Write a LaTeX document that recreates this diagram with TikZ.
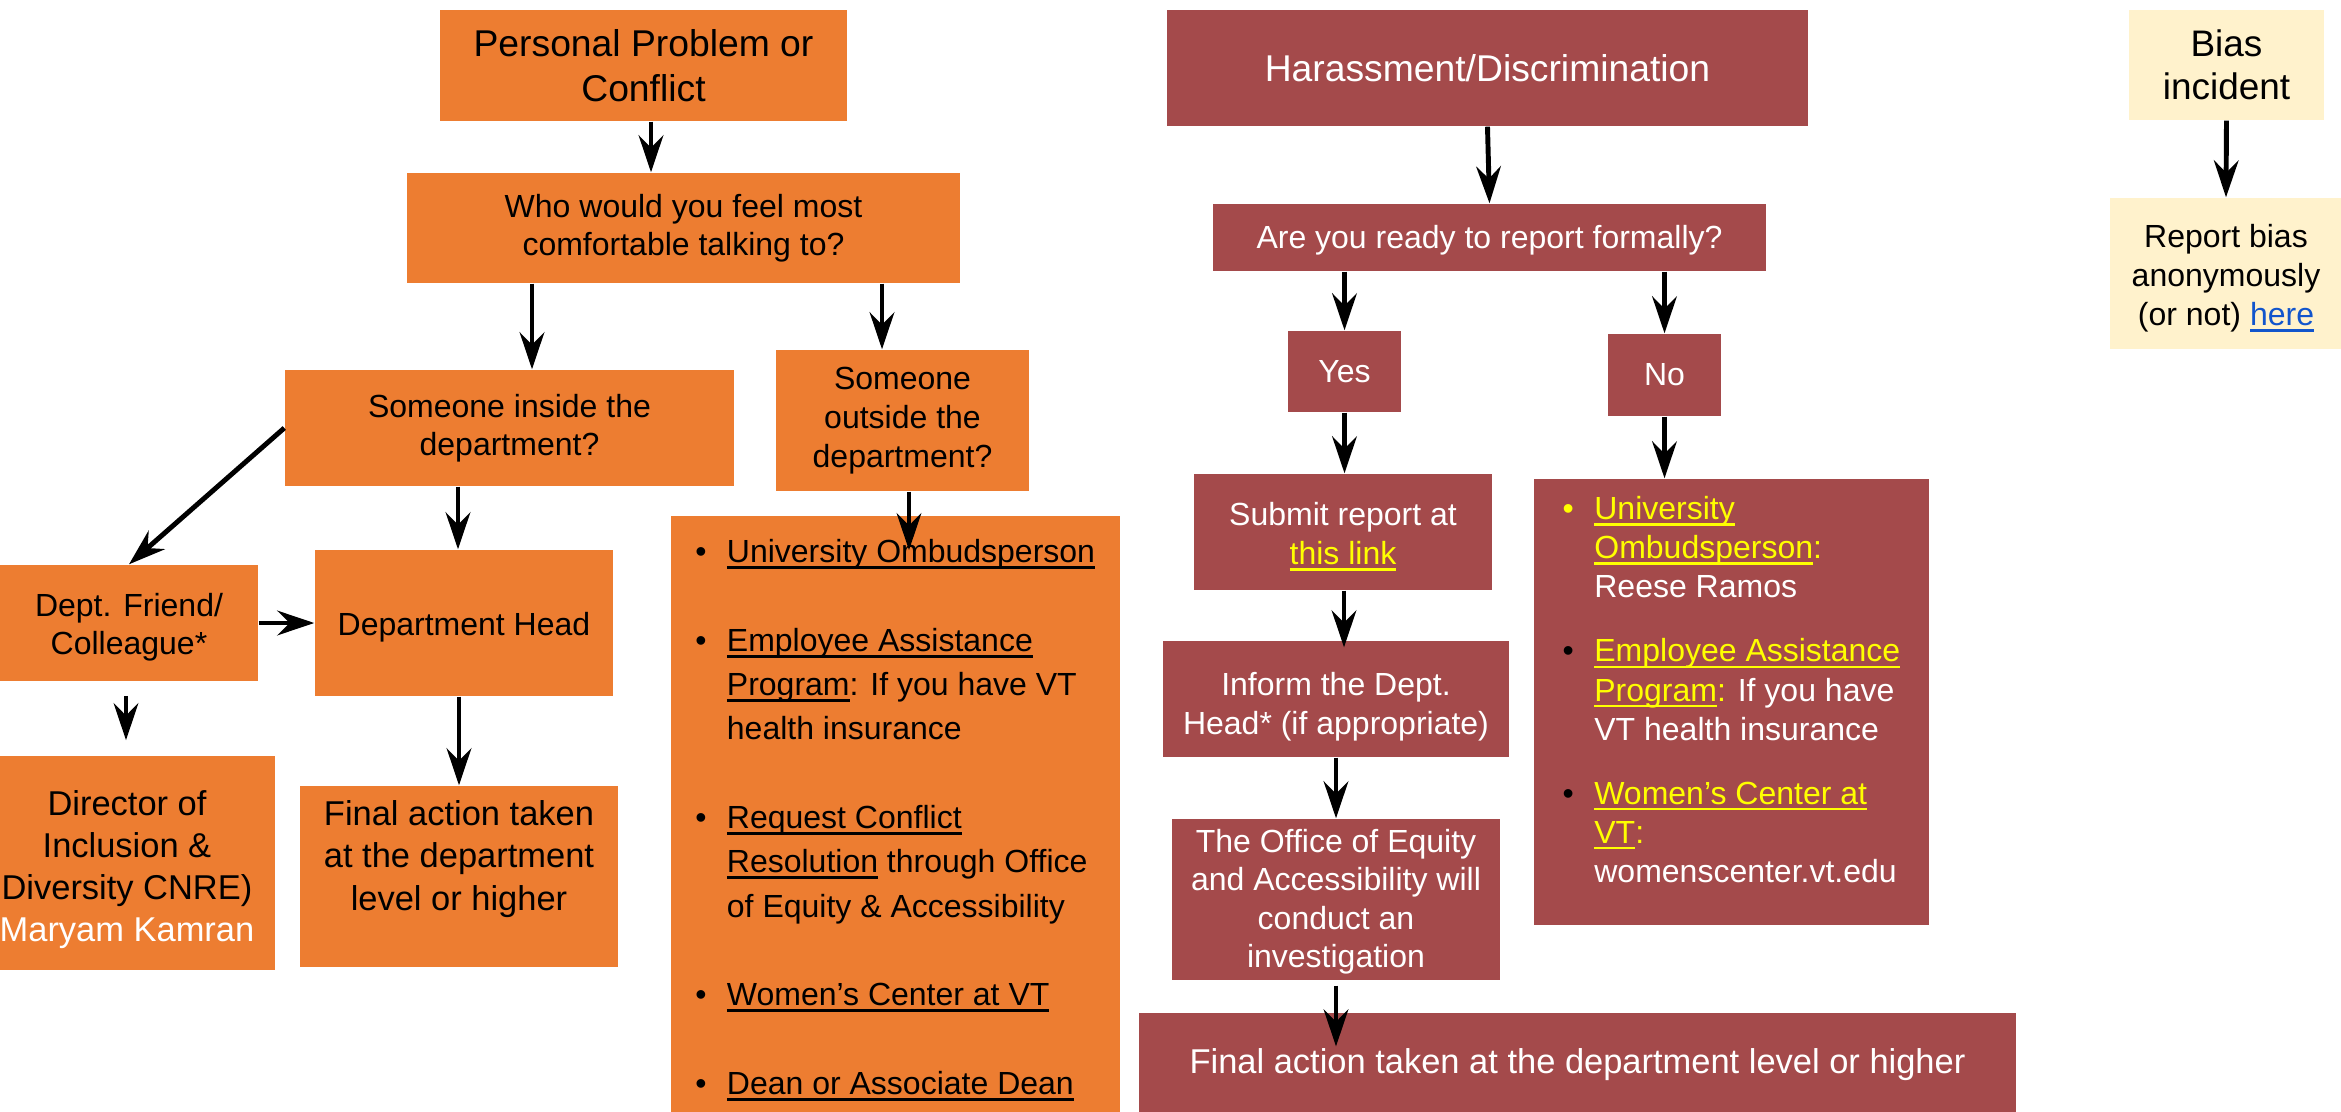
\documentclass[tikz,border=0pt]{standalone}
\usepackage{fontspec}
\setmainfont{Liberation Sans}
\usetikzlibrary{arrows.meta}
\definecolor{orng}{HTML}{ED7D31}
\definecolor{maroon}{HTML}{A44A4B}
\definecolor{cream}{HTML}{FFF2CC}
\definecolor{lnkyel}{HTML}{FFFF00}
\definecolor{lnkblue}{HTML}{1155CC}
\newcommand\fz[2]{\fontsize{#1pt}{#2pt}\selectfont}
\newcommand\lnk[1]{\setbox0\hbox{#1}\rlap{\rule[-1.8pt]{\wd0}{0.8pt}}\box0\relax}
\newcommand\blt[1]{\makebox[9pt][l]{\textcolor{#1}{\textbullet}}}
\newcommand\tp[1]{\rule{0pt}{#1pt}}
\begin{document}
\begin{tikzpicture}[x=0.01cm,y=-0.01cm,
	bx/.style={inner sep=0pt,align=center},
	sz/.style 2 args={minimum width=#1*0.01cm,minimum height=#2*0.01cm},
	obx/.style={bx,fill=orng,text=black},
	mbx/.style={bx,fill=maroon,text=white},
	cbx/.style={bx,fill=cream,text=black},
	arr/.style={-{Stealth[length=10.5pt,width=7pt,inset=3.5pt]},line width=1.4pt}]
	\useasboundingbox (0,0) rectangle (2341,1112);
	\clip (0,0) rectangle (2341,1112);
	% personal problem branch
	\node[obx,sz={407}{111},font=\fz{10.6}{12.7}] (prob) at (643.5,65.5) {Personal Problem or\\Conflict};
	\node[obx,sz={553}{110},font=\fz{9.1}{10.7}] (who) at (683.5,228) {Who would you feel most\\comfortable talking to?};
	\node[obx,sz={449}{116},font=\fz{9.1}{10.7}] (inside) at (509.5,428) {Someone inside the\\department?};
	\node[obx,sz={253}{141},font=\fz{9.1}{11}] (outside) at (902.5,420.5) {Someone\\outside the\\department?};
	\node[obx,sz={258}{116},font=\fz{9.1}{10.8}] (friend) at (129,623) {\tp{9.2}Dept. Friend/\\Colleague*};
	\node[obx,sz={298}{146},font=\fz{9.1}{10.8}] (head) at (464,623) {\tp{9.2}Department Head};
	\node[obx,sz={296}{214},font=\fz{9.8}{11.95}] (director) at (127,863) {\tp{10.6}Director of\\Inclusion \&\\Diversity CNRE)\\\textcolor{white}{Maryam Kamran}};
	\node[obx,sz={318}{181},font=\fz{9.8}{11.95}] (finalo) at (459,876.5) {Final action taken\\at the department\\level or higher\\\mbox{}};
	\node[obx,anchor=north west,minimum width=449*0.01cm,inner ysep=4.5pt,font=\fz{9.1}{12.6}] (ombuds) at (670,515) {%
		\begin{tabular}{@{}l@{}l@{}}
		\blt{black} & \lnk{University Ombudsperson}\\[12.6pt]
		\blt{black} & \lnk{Employee Assistance}\\
		 & \lnk{Program}: If you have VT\\
		 & health insurance\\[12.6pt]
		\blt{black} & \lnk{Request Conflict}\\
		 & \lnk{Resolution} through Office\\
		 & of Equity \& Accessibility\\[12.6pt]
		\blt{black} & \lnk{Women’s Center at VT}\\[12.6pt]
		\blt{black} & \lnk{Dean or Associate Dean}
		\end{tabular}};
	% harassment branch
	\node[mbx,sz={641}{116},font=\fz{10.6}{12.7}] (harass) at (1487.5,68) {Harassment/Discrimination};
	\node[mbx,sz={553}{67},font=\fz{9.1}{11}] (ready) at (1489.5,237.5) {\tp{8.3}Are you ready to report formally?};
	\node[mbx,sz={113}{81},font=\fz{9.1}{11}] (yes) at (1344.5,371.5) {Yes};
	\node[mbx,sz={113}{82},font=\fz{9.1}{11}] (no) at (1664.5,375) {No};
	\node[mbx,sz={298}{116},font=\fz{9.1}{11}] (submit) at (1343,532) {\tp{9.2}Submit report at\\\textcolor{lnkyel}{\lnk{this link}}};
	\node[mbx,sz={346}{116},font=\fz{9.1}{11}] (inform) at (1336,699) {\tp{10.8}Inform the Dept.\\Head* (if appropriate)};
	\node[mbx,sz={328}{161},font=\fz{9.1}{10.95}] (office) at (1336,899.5) {\tp{7.8}The Office of Equity\\and Accessibility will\\conduct an\\investigation};
	\node[mbx,sz={877}{104},font=\fz{9.8}{11.95}] (finalm) at (1577.5,1065) {Final action taken at the department level or higher};
	\node[mbx,sz={395}{446},font=\fz{9.1}{11.1}] (nolist) at (1731.5,702) {%
		\begin{tabular}{@{}l@{}l@{}}
		\blt{lnkyel} & \textcolor{lnkyel}{\lnk{University}}\\
		 & \textcolor{lnkyel}{\lnk{Ombudsperson}:}\\
		 & Reese Ramos\\[7.1pt]
		\blt{black} & \textcolor{lnkyel}{\lnk{Employee Assistance}}\\
		 & \textcolor{lnkyel}{\lnk{Program}:} If you have\\
		 & VT health insurance\\[7.1pt]
		\blt{black} & \textcolor{lnkyel}{\lnk{Women’s Center at}}\\
		 & \textcolor{lnkyel}{\lnk{VT}:}\\
		 & womenscenter.vt.edu\\[5pt]
		\end{tabular}};
	% bias
	\node[cbx,sz={195}{110},font=\fz{10.5}{12.2}] (bias) at (2226.5,65) {Bias\\incident};
	\node[cbx,sz={232}{151},font=\fz{9.1}{11.1}] (report) at (2226,273.5) {\tp{9.2}Report bias\\anonymously\\(or not) \textcolor{lnkblue}{\lnk{here}}};
	% connectors
	\draw[arr] (prob.south -| 651,0) -- (who.north -| 651,0);
	\draw[arr] (who.south -| 532,0) -- (inside.north -| 532,0);
	\draw[arr] (who.south -| 882,0) -- (outside.north -| 882,0);
	\draw[arr] (inside.west) -- (friend.north);
	\draw[arr] (inside.south -| 458,0) -- (head.north -| 458,0);
	\draw[arr,shorten >=-10pt] (outside.south -| 909,0) -- (ombuds.north -| 909,0);
	\draw[arr] (friend.east) -- (head.west);
	\draw[arr,shorten <=4pt,shorten >=4.3pt] (friend.south -| 126,0) -- (director.north -| 126,0);
	\draw[arr] (head.south -| 459,0) -- (finalo.north -| 459,0);
	\draw[arr] (harass.south) -- (ready.north);
	\draw[arr] (ready.south -| yes.north) -- (yes.north);
	\draw[arr] (ready.south -| no.north) -- (no.north);
	\draw[arr] (yes.south) -- (yes.south |- submit.north);
	\draw[arr] (no.south) -- (no.south |- nolist.north);
	\draw[arr,shorten >=-2pt] (submit.south -| 1344,0) -- (inform.north -| 1344,0);
	\draw[arr] (inform.south) -- (office.north);
	\draw[arr,shorten <=1.4pt,shorten >=-9.7pt] (office.south) -- (office.south |- finalm.north);
	\draw[arr] (bias.south) -- (report.north);
\end{tikzpicture}
\end{document}
